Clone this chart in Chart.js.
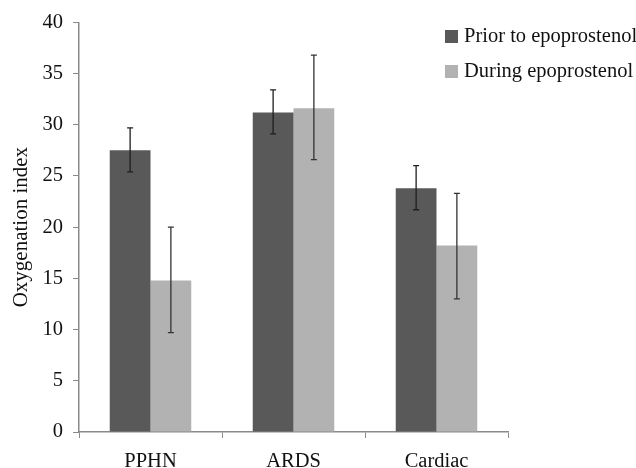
<!DOCTYPE html>
<html>
<head>
<meta charset="utf-8">
<script src="https://cdn.jsdelivr.net/npm/chart.js@4.4.0/dist/chart.umd.min.js"></script>
<style>
  html, body { margin: 0; padding: 0; background: #fff; }
  #wrap { position: relative; width: 636px; height: 468px; }
  #legend { position: absolute; left: 445px; top: 21px; font-family: 'Liberation Serif', 'Times New Roman', serif; font-size: 20.5px; color: #111; }
  #legend div { height: 35px; line-height: 28px; white-space: nowrap; }
  #legend span.box { display: inline-block; width: 13px; height: 13px; margin-right: 6px; vertical-align: -1px; }
</style>
</head>
<body>
<div id="wrap">
  <canvas id="chart" width="636" height="468"></canvas>
  <div id="legend"></div>
</div>
<script>
// Data
const categories = ['PPHN', 'ARDS', 'Cardiac'];
const seriesNames = ['Prior to epoprostenol', 'During epoprostenol'];
const priorValues = [27.5, 31.2, 23.8];
const priorLow = [25.4, 29.1, 21.7];
const priorHigh = [29.7, 33.4, 26.0];
const duringValues = [14.8, 31.6, 18.2];
const duringLow = [9.7, 26.6, 13.0];
const duringHigh = [20.0, 36.8, 23.3];
const yTicks = [0, 5, 10, 15, 20, 25, 30, 35, 40];

const colors = ['#595959', '#b2b2b2'];
const errColors = ['#1e1e1e', '#333333'];
const fontFamily = "'Liberation Serif', 'Times New Roman', serif";

// draws the whiskers through the y scale
const errorBars = {
    id: 'errorBars',
    afterDatasetsDraw(chart) {
        const ctx = chart.ctx;
        const y = chart.scales.y;
        const lows = [priorLow, duringLow];
        const highs = [priorHigh, duringHigh];
        chart.data.datasets.forEach((ds, d) => {
            const meta = chart.getDatasetMeta(d);
            meta.data.forEach((bar, i) => {
                const yl = y.getPixelForValue(lows[d][i]);
                const yh = y.getPixelForValue(highs[d][i]);
                ctx.save();
                ctx.strokeStyle = errColors[d];
                ctx.lineWidth = 1.3;
                ctx.beginPath();
                ctx.moveTo(bar.x, yl);
                ctx.lineTo(bar.x, yh);
                ctx.moveTo(bar.x - 3, yl);
                ctx.lineTo(bar.x + 3, yl);
                ctx.moveTo(bar.x - 3, yh);
                ctx.lineTo(bar.x + 3, yh);
                ctx.stroke();
                ctx.restore();
            });
        });
    }
};

const ctx = document.getElementById('chart').getContext('2d');
const chart = new Chart(ctx, {
    type: 'bar',
    data: {
        labels: categories,
        datasets: [
            { label: seriesNames[0], data: priorValues, backgroundColor: colors[0] },
            { label: seriesNames[1], data: duringValues, backgroundColor: colors[1] }
        ]
    },
    options: {
        responsive: false,
        animation: false,
        layout: { padding: { top: 21, right: 128, left: 0, bottom: 0 } },
        datasets: { bar: { barPercentage: 1.0, categoryPercentage: 0.57 } },
        plugins: {
            legend: { display: false },
            tooltip: { enabled: false }
        },
        scales: {
            x: {
                grid: { display: true, drawOnChartArea: false, tickLength: 6, color: '#8a8a8a', offset: true },
                border: { color: '#8a8a8a', width: 1.5 },
                ticks: { color: '#111', padding: 11, font: { family: fontFamily, size: 20.5 } },
                afterFit(scale) { scale.height = 36; }
            },
            y: {
                min: 0,
                max: 40,
                afterBuildTicks(scale) { scale.ticks = yTicks.map(v => ({ value: v })); },
                grid: { display: true, drawOnChartArea: false, tickLength: 6, color: '#8a8a8a' },
                border: { color: '#8a8a8a', width: 1.5 },
                ticks: { color: '#111', padding: 10, font: { family: fontFamily, size: 20.5 } },
                title: { display: true, text: 'Oxygenation index', color: '#111', padding: { top: 9, bottom: 0 }, font: { family: fontFamily, size: 21 } },
                afterFit(scale) { scale.width = 79; }
            }
        }
    },
    plugins: [errorBars]
});

// html legend built from the datasets
const legend = document.getElementById('legend');
chart.data.datasets.forEach((ds, i) => {
    const row = document.createElement('div');
    const box = document.createElement('span');
    box.className = 'box';
    box.style.background = ds.backgroundColor;
    row.appendChild(box);
    row.appendChild(document.createTextNode(ds.label));
    legend.appendChild(row);
});
</script>
</body>
</html>
